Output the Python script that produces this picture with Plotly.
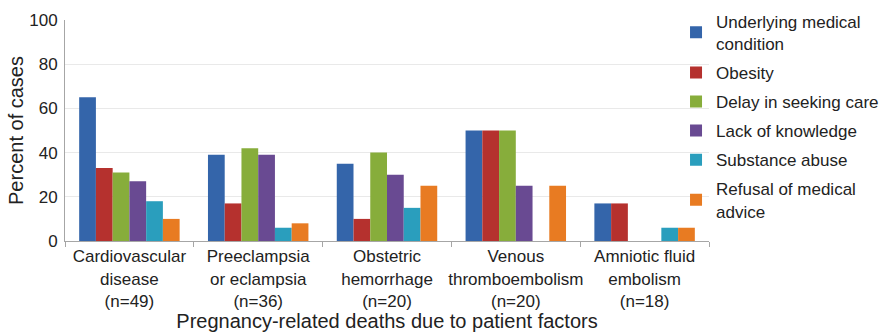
import plotly.graph_objects as go

# Causes of pregnancy-related death and the share of cases with each patient factor
categories = [
    "Cardiovascular<br>disease<br>(n=49)",
    "Preeclampsia<br>or eclampsia<br>(n=36)",
    "Obstetric<br>hemorrhage<br>(n=20)",
    "Venous<br>thromboembolism<br>(n=20)",
    "Amniotic fluid<br>embolism<br>(n=18)",
]
underlying_medical = [65, 39, 35, 50, 17]
obesity = [33, 17, 10, 50, 17]
delay_in_care = [31, 42, 40, 50, 0]
lack_of_knowledge = [27, 39, 30, 25, 0]
substance_abuse = [18, 6, 15, 0, 6]
refusal_of_advice = [10, 8, 25, 25, 6]

series = [
    ("Underlying medical<br>condition", underlying_medical, "#3465aa"),
    ("Obesity", obesity, "#b5312e"),
    ("Delay in seeking care", delay_in_care, "#87ad3b"),
    ("Lack of knowledge", lack_of_knowledge, "#694a92"),
    ("Substance abuse", substance_abuse, "#2a9ebd"),
    ("Refusal of medical<br>advice", refusal_of_advice, "#e87b22"),
]

fig = go.Figure()
for i, (name, vals, color) in enumerate(series):
    fig.add_trace(go.Bar(
        x=categories, y=vals, name=name,
        marker=dict(color=color, line=dict(width=0)),
        legendgroup=f"g{i}",
    ))

font = dict(family="Liberation Sans, Arial, sans-serif", size=17, color="#222222")

fig.update_layout(
    width=883, height=332,
    margin=dict(l=65, r=174, t=20, b=91, autoexpand=False),
    paper_bgcolor="white", plot_bgcolor="white",
    font=font,
    barmode="group", bargap=0.22, bargroupgap=0,
    showlegend=True,
    legend=dict(
        x=0.9488, xanchor="left", y=1.074, yanchor="top",
        font=font, tracegroupgap=4, bgcolor="rgba(0,0,0,0)",
        borderwidth=0, maxheight=320,
    ),
    xaxis=dict(
        showline=True, linecolor="#a6a6a6", linewidth=1,
        ticks="outside", tickson="boundaries", ticklen=5, tickcolor="#a6a6a6",
        tickangle=0, automargin=False,
        title=dict(text="Pregnancy-related deaths due to patient factors", standoff=4),
        tickfont=font,
    ),
    yaxis=dict(
        range=[0, 100], dtick=20,
        showline=True, linecolor="#a6a6a6", linewidth=1,
        ticks="", ticklabelstandoff=3,
        showgrid=True, gridcolor="#e9e9e9", gridwidth=1,
        zeroline=False, automargin=False,
        title=dict(text="Percent of cases", standoff=0),
        tickfont=font,
    ),
)

fig.write_html("out.html")
